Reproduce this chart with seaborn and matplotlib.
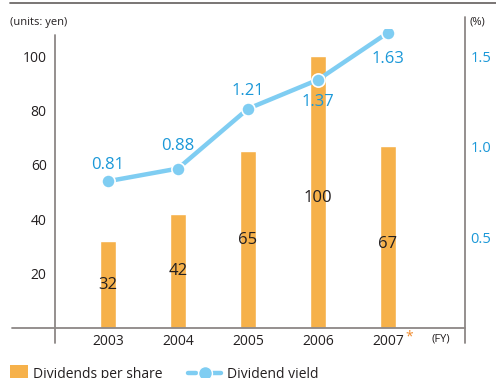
import matplotlib
matplotlib.use("Agg")
import matplotlib.pyplot as plt
from matplotlib.lines import Line2D
from matplotlib.patches import Rectangle
import seaborn as sns
import pandas as pd

# Data
years = ["2003", "2004", "2005", "2006", "2007"]
dividends = [32, 42, 65, 100, 67]          # yen per share
yield_pct = [0.81, 0.88, 1.21, 1.37, 1.63]  # dividend yield, %
left_ticks = [20, 40, 60, 80, 100]
right_ticks = [0.5, 1.0, 1.5]

ORANGE = "#F6B14A"
LINE_BLUE = "#7FCDF2"
TEXT_BLUE = "#1B98D8"
DARK = "#231F20"
GREY = "#8C8786"

sns.set_theme(style="white")
plt.rcParams["font.family"] = ["Open Sans", "DejaVu Sans"]

W, H = 496, 378
fig = plt.figure(figsize=(W / 100, H / 100), dpi=100)

def px_x(x):
    return x / W

def px_y(y):
    return 1 - y / H

ax_left, ax_right, ax_base, ax_top = 55, 465, 328, 29
ax = fig.add_axes([px_x(ax_left), px_y(ax_base),
                   px_x(ax_right - ax_left), (ax_base - ax_top) / H])

df = pd.DataFrame({"year": years, "dps": dividends, "yield": yield_pct})
pos = list(range(len(years)))

sns.barplot(data=df, x="year", y="dps", color=ORANGE, width=0.23,
            saturation=1, ax=ax, zorder=2)
ax.set_xlim(-0.757, 5.1)
ax.set_ylim(0, 110)
ax.set_xlabel("")
ax.set_ylabel("")
ax.set_yticks(left_ticks)
ax.set_yticklabels([str(v) for v in left_ticks], fontsize=10, color=DARK)
ax.set_xticks(pos)
ax.set_xticklabels(years, fontsize=10, color=DARK)
ax.tick_params(axis="both", length=0)
ax.tick_params(axis="y", pad=6)
ax.tick_params(axis="x", pad=4)
for s in ax.spines.values():
    s.set_visible(False)

# bar value labels, placed inside each bar
bar_label_frac = [0.5, 0.5, 0.5, 0.48, 0.46]
for i, (v, f) in enumerate(zip(dividends, bar_label_frac)):
    ax.text(i, v * f, str(v), ha="center", va="center", fontsize=12,
            color=DARK, zorder=5)

# axis lines extending beyond the plotting box
ax.add_line(Line2D([-0.105, 1.0], [0, 0], transform=ax.transAxes,
                   color=GREY, lw=1.3, clip_on=False))
ax.add_line(Line2D([0, 0], [-0.05, 0.98], transform=ax.transAxes,
                   color=GREY, lw=1.3, clip_on=False))
ax.add_line(Line2D([1.0, 1.0], [-0.05, 1.04], transform=ax.transAxes,
                   color=GREY, lw=1.3, clip_on=False))

# dividend yield on secondary axis
ax2 = ax.twinx()
ax2.set_ylim(0, 110 / (100 / 1.5))
sns.lineplot(x=pos, y=yield_pct, ax=ax2, color=LINE_BLUE, lw=3.2,
             marker="o", markersize=9.5, markeredgecolor="white",
             markeredgewidth=1.2, zorder=4)
ax2.set_yticks(right_ticks)
ax2.set_yticklabels([f"{v:.1f}" for v in right_ticks], fontsize=10.5,
                    color=TEXT_BLUE)
ax2.tick_params(axis="y", length=0, pad=4)
for s in ax2.spines.values():
    s.set_visible(False)
ax2.set_xlim(-0.757, 5.1)

label_offsets = [11.5, 16, 13, -16, -19]
for i, (v, off) in enumerate(zip(yield_pct, label_offsets)):
    ax2.annotate(f"{v:.2f}", (i, v), xytext=(0, off), textcoords="offset points",
                 ha="center", va="center", fontsize=12, color=TEXT_BLUE,
                 zorder=6)

# unit captions and fiscal-year marker
fig.text(px_x(10), px_y(23), "(units: yen)", fontsize=8, color=DARK,
         ha="left", va="center")
fig.text(px_x(469), px_y(22), "(%)", fontsize=8, color=DARK,
         ha="left", va="center")
fig.text(px_x(432), px_y(339), "(FY)", fontsize=8, color=DARK,
         ha="left", va="center")
fig.text(px_x(405), px_y(337), "*", fontsize=10, color="#F08A2C",
         ha="left", va="center")

# header rule
fig.add_artist(Line2D([px_x(10), 1.0], [px_y(3), px_y(3)], color="#6E6A69",
                      lw=1.3))

# legend along the bottom edge
fig.add_artist(Rectangle((px_x(10), px_y(383)), px_x(18), 18 / H,
                         facecolor=ORANGE, edgecolor="none"))
fig.text(px_x(33), px_y(374), "Dividends per share", fontsize=10,
         color=DARK, ha="left", va="center")
fig.add_artist(Line2D([px_x(188), px_x(196)], [px_y(373), px_y(373)],
                      color=LINE_BLUE, lw=3.2))
fig.add_artist(Line2D([px_x(213), px_x(221)], [px_y(373), px_y(373)],
                      color=LINE_BLUE, lw=3.2))
fig.add_artist(Line2D([px_x(204.5)], [px_y(373)], marker="o", markersize=10,
                      color=LINE_BLUE, markeredgecolor="white"))
fig.text(px_x(227), px_y(374), "Dividend yield", fontsize=10,
         color=DARK, ha="left", va="center")

fig.savefig("out.png", dpi=100)
